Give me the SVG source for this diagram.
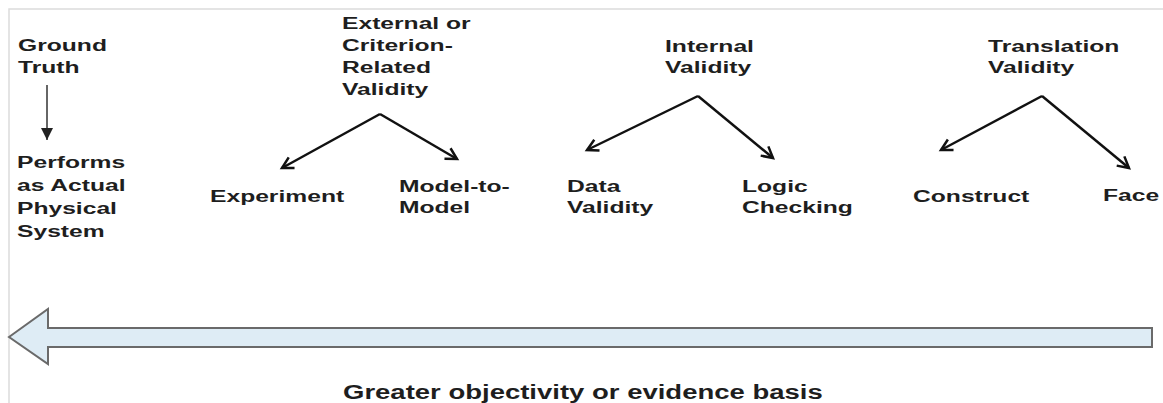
<svg xmlns="http://www.w3.org/2000/svg" width="1163" height="403" viewBox="0 0 1163 403">
<style>
.t{font-family:"Liberation Sans",Arial,sans-serif;font-weight:bold;font-size:17px;fill:#1e1e1e}
.b{font-family:"Liberation Sans",Arial,sans-serif;font-weight:bold;font-size:19.5px;fill:#1e1e1e}
.c{fill:none;stroke:#111;stroke-width:2.5}
.g{fill:none;stroke:#333;stroke-width:1.5}
</style>
<defs>
<marker id="open" markerUnits="userSpaceOnUse" markerWidth="16" markerHeight="16" refX="13" refY="7" orient="auto" viewBox="0 0 16 14">
<path d="M2,1 L13,7 L2,13" fill="none" stroke="#111" stroke-width="2.5"/>
</marker>
<marker id="solid" markerUnits="userSpaceOnUse" markerWidth="12" markerHeight="12" refX="10" refY="5" orient="auto" viewBox="0 0 10 10">
<path d="M0,0 L10,5 L0,10 Z" fill="#222"/>
</marker>
</defs>
<rect width="1163" height="403" fill="#fff"/>
<path d="M9,403 V9 H1163" fill="none" stroke="#dcdcdc" stroke-width="1.5"/>
<g id="connectors">
<path class="g" d="M47,85 V140" marker-end="url(#solid)"/>
<path class="c" d="M380,114 L282,168" marker-end="url(#open)"/>
<path class="c" d="M380,114 L457,159" marker-end="url(#open)"/>
<path class="c" d="M698,96 L587,150" marker-end="url(#open)"/>
<path class="c" d="M698,96 L773,158" marker-end="url(#open)"/>
<path class="c" d="M1042,96 L941,150" marker-end="url(#open)"/>
<path class="c" d="M1042,96 L1129,168" marker-end="url(#open)"/>
</g>
<g id="ground-truth"><text class="t" transform="translate(18,51) scale(1.45,1)"><tspan x="0" y="0">Ground</tspan><tspan x="0" y="22">Truth</tspan></text></g>
<g id="performs"><text class="t" transform="translate(17,168) scale(1.45,1)"><tspan x="0" y="0">Performs</tspan><tspan x="0" y="23">as Actual</tspan><tspan x="0" y="46">Physical</tspan><tspan x="0" y="69">System</tspan></text></g>
<g id="external"><text class="t" transform="translate(342,29) scale(1.45,1)"><tspan x="0" y="0">External or</tspan><tspan x="0" y="22">Criterion-</tspan><tspan x="0" y="44">Related</tspan><tspan x="0" y="66">Validity</tspan></text></g>
<g id="experiment"><text class="t" transform="translate(210,202) scale(1.45,1)">Experiment</text></g>
<g id="model-to-model"><text class="t" transform="translate(399,192) scale(1.45,1)"><tspan x="0" y="0">Model-to-</tspan><tspan x="0" y="21">Model</tspan></text></g>
<g id="internal"><text class="t" transform="translate(665,52) scale(1.45,1)"><tspan x="0" y="0">Internal</tspan><tspan x="0" y="21">Validity</tspan></text></g>
<g id="data-validity"><text class="t" transform="translate(567,192) scale(1.45,1)"><tspan x="0" y="0">Data</tspan><tspan x="0" y="21">Validity</tspan></text></g>
<g id="logic-checking"><text class="t" transform="translate(742,192) scale(1.45,1)"><tspan x="0" y="0">Logic</tspan><tspan x="0" y="21">Checking</tspan></text></g>
<g id="translation"><text class="t" transform="translate(988,52) scale(1.45,1)"><tspan x="0" y="0">Translation</tspan><tspan x="0" y="21">Validity</tspan></text></g>
<g id="construct"><text class="t" transform="translate(913,202) scale(1.45,1)">Construct</text></g>
<g id="face"><text class="t" transform="translate(1103,201) scale(1.45,1)">Face</text></g>
<g id="big-arrow">
<polygon points="9,337 48,309 48,328 1152,328 1152,347 48,347 48,364" fill="#deecf5" stroke="#6a6a6a" stroke-width="2"/>
</g>
<g id="caption"><text class="b" transform="translate(343,399) scale(1.41,1)">Greater objectivity or evidence basis</text></g>
</svg>
